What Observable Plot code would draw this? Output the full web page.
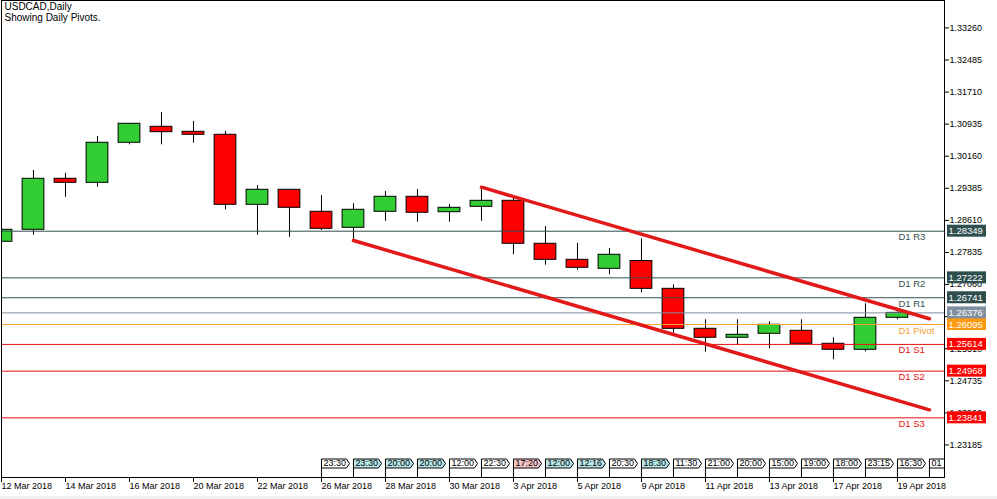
<!DOCTYPE html>
<html><head><meta charset="utf-8">
<script src="https://cdn.jsdelivr.net/npm/d3@7"></script>
<script src="https://cdn.jsdelivr.net/npm/@observablehq/plot@0.6"></script>
<style>
html,body{margin:0;padding:0;background:#f0f0f0;}
#chart{width:997px;height:496px;background:#fff;overflow:hidden;}
svg{display:block;}
</style></head><body><div id="chart"></div>
<script>
// ---- data ----
const barDates = ["12 Mar 2018","13 Mar 2018","14 Mar 2018","15 Mar 2018","16 Mar 2018","19 Mar 2018","20 Mar 2018","21 Mar 2018","22 Mar 2018","23 Mar 2018","26 Mar 2018","27 Mar 2018","28 Mar 2018","29 Mar 2018","30 Mar 2018","2 Apr 2018","3 Apr 2018","4 Apr 2018","5 Apr 2018","6 Apr 2018","9 Apr 2018","10 Apr 2018","11 Apr 2018","12 Apr 2018","13 Apr 2018","16 Apr 2018","17 Apr 2018","18 Apr 2018","19 Apr 2018"];
const opens  = [1.28093,1.28383,1.29615,1.29518,1.30485,1.30871,1.30750,1.30678,1.28987,1.29349,1.28818,1.28431,1.28818,1.29180,1.28808,1.28938,1.29083,1.28045,1.27658,1.27441,1.27629,1.26957,1.25991,1.25774,1.25870,1.25943,1.25629,1.25484,1.26257];
const highs  = [1.28400,1.29815,1.29750,1.30637,1.30950,1.31217,1.30999,1.30758,1.29453,1.29356,1.29211,1.29011,1.29308,1.29356,1.28994,1.29412,1.29139,1.28463,1.28059,1.27931,1.28165,1.27054,1.26209,1.26209,1.26160,1.26209,1.25774,1.26595,1.26400];
const lows   = [1.28080,1.28252,1.29170,1.29412,1.30436,1.30436,1.30475,1.28866,1.28252,1.28204,1.28366,1.28124,1.28591,1.28566,1.28566,1.28591,1.27779,1.27528,1.27407,1.27296,1.26861,1.25885,1.25426,1.25605,1.25508,1.25590,1.25242,1.25435,1.26209];
const closes = [1.28383,1.29615,1.29518,1.30485,1.30944,1.30741,1.30678,1.28987,1.29349,1.28914,1.28407,1.28866,1.29180,1.28794,1.28914,1.29083,1.28045,1.27658,1.27465,1.27779,1.26957,1.25991,1.25774,1.25846,1.26088,1.25629,1.25484,1.26257,1.26376];

const yTicks = [1.33260,1.32485,1.31710,1.30935,1.30160,1.29385,1.28610,1.27835,1.27060,1.26285,1.25510,1.24735,1.23960,1.23185];

const pivotNames  = ["D1 R3","D1 R2","D1 R1","D1 Pivot","D1 S1","D1 S2","D1 S3"];
const pivotValues = [1.28349,1.27222,1.26741,1.26095,1.25614,1.24968,1.23841];
const currentPrice = 1.26376;

const upperChannelX = [15, 29];
const upperChannelY = [1.29412, 1.26233];
const lowerChannelX = [11, 29];
const lowerChannelY = [1.28124, 1.24034];

const eventIdx    = [10,11,12,13,14,15,16,17,18,19,20,21,22,23,24,25,26,27,28,29];
const eventLabels = ["23:30","23:30","20:00","20:00","12:00","22:30","17:20","12:00","12:16","20:30","18:30","11:30","21:00","20:00","15:00","19:00","18:00","23:15","16:30","01"];
const eventKinds  = ["plain","teal","teal","teal","plain","plain","pink","teal","teal","plain","teal","plain","plain","plain","plain","plain","plain","plain","plain","plain"];

const xDomain = [0, 29.47];
const yDomain = [1.22399, 1.33922];

// ---- derived tables ----
const bars = barDates.map((d, i) => ({i, o: opens[i], h: highs[i], l: lows[i], c: closes[i]}));
const lastIdx = bars.length - 1;
const pivots = pivotNames.map((n, k) => ({name: n, v: pivotValues[k]}));
const tags = [...pivots, {name: "price", v: currentPrice}];
const upper = upperChannelX.map((x, k) => ({x, y: upperChannelY[k]}));
const lower = lowerChannelX.map((x, k) => ({x, y: lowerChannelY[k]}));
const events = eventIdx.map((x, k) => ({i: x, label: eventLabels[k], kind: eventKinds[k]}));
const xTicks = barDates.map((d, i) => i).filter(i => i % 2 === 0);

const lineColor = n => n === "price" ? "#7f8fa0" : n.includes("R") ? "#2f4f4f" : n.includes("Pivot") ? "#f5a030" : "#e81010";
const boxColor = n => n === "price" ? "#7f8fa0" : n.includes("R") ? "#2f4f4f" : n.includes("Pivot") ? "#ff9a10" : "#ff0000";
const kindColor = k => k === "teal" ? "#b6e6e6" : k === "pink" ? "#f7c3c9" : "#ffffff";

const eventBox = {draw(ctx) {
  ctx.moveTo(-14, -4.5); ctx.lineTo(11, -4.5); ctx.lineTo(14, 0); ctx.lineTo(11, 4.5); ctx.lineTo(-14, 4.5); ctx.closePath();
  ctx.moveTo(-14, 4.5); ctx.lineTo(-14, 14);
}};

const xMax = xDomain[1];
const yMin = yDomain[0];

const chart = Plot.plot({
  width: 997, height: 496,
  marginLeft: 1, marginRight: 53, marginTop: 0, marginBottom: 19,
  style: {fontFamily: "'Liberation Sans', Arial, sans-serif", fontSize: "9px", background: "#fff", color: "black"},
  x: {domain: xDomain},
  y: {domain: yDomain},
  marks: [
    Plot.axisY(yTicks, {anchor: "right", tickFormat: d => d.toFixed(5), tickSize: 4, tickPadding: 1, fontSize: 9}),
    Plot.axisX(xTicks, {anchor: "bottom", tickFormat: i => barDates[i], tickSize: 5, tickPadding: 0, textAnchor: "start", dx: 0, fontSize: 9}),
    Plot.ruleX(bars, {x: "i", y1: "l", y2: "h", stroke: "black", clip: true}),
    Plot.rect(bars, {x1: d => d.i - 0.34, x2: d => d.i + 0.34, y1: "o", y2: d => Math.abs(d.c - d.o) < 0.00003 ? d.o + 0.00003 : d.c,
      fill: d => d.c >= d.o ? "#32cd32" : "#ff0000", stroke: "black", strokeWidth: 1, clip: true}),
    Plot.ruleY(pivots, {y: "v", stroke: d => lineColor(d.name), strokeWidth: 1}),
    Plot.ruleY([currentPrice], {y: d => d, stroke: lineColor("price"), strokeWidth: 1}),
    Plot.text(pivots, {x: () => lastIdx, y: "v", text: "name", textAnchor: "start", dx: 1, dy: 6, fill: d => lineColor(d.name), fontSize: 9.5}),
    Plot.line(upper, {x: "x", y: "y", stroke: "#e31919", strokeWidth: 3.5, clip: true}),
    Plot.line(lower, {x: "x", y: "y", stroke: "#e31919", strokeWidth: 3.5, clip: true}),
    Plot.dot(events, {x: "i", y: () => yMin, dx: 14, dy: -14, symbol: eventBox, r: 5, fill: d => kindColor(d.kind), stroke: "black", strokeWidth: 1, clip: true}),
    Plot.text(events, {x: "i", y: () => yMin, dx: 2, dy: -14, text: "label", textAnchor: "start", fill: "black", fontSize: 9, clip: true}),
    Plot.frame({stroke: "black"}),
    Plot.rect(tags, {x1: () => xMax, x2: () => xMax, y1: "v", y2: "v", insetLeft: 3, insetRight: -42, insetTop: -6, insetBottom: -6, fill: d => boxColor(d.name)}),
    Plot.text(tags, {x: () => xMax, y: "v", dx: 4, text: d => d.v.toFixed(5), textAnchor: "start", fill: "white", fontSize: 9.5}),
    Plot.text(["USDCAD,Daily"], {frameAnchor: "top-left", dx: 3, dy: 2, lineAnchor: "top", fontSize: 10, fill: "black"}),
    Plot.text(["Showing Daily Pivots."], {frameAnchor: "top-left", dx: 3, dy: 13, lineAnchor: "top", fontSize: 10, fill: "black"})
  ]
});
document.getElementById("chart").appendChild(chart);
</script></body></html>
